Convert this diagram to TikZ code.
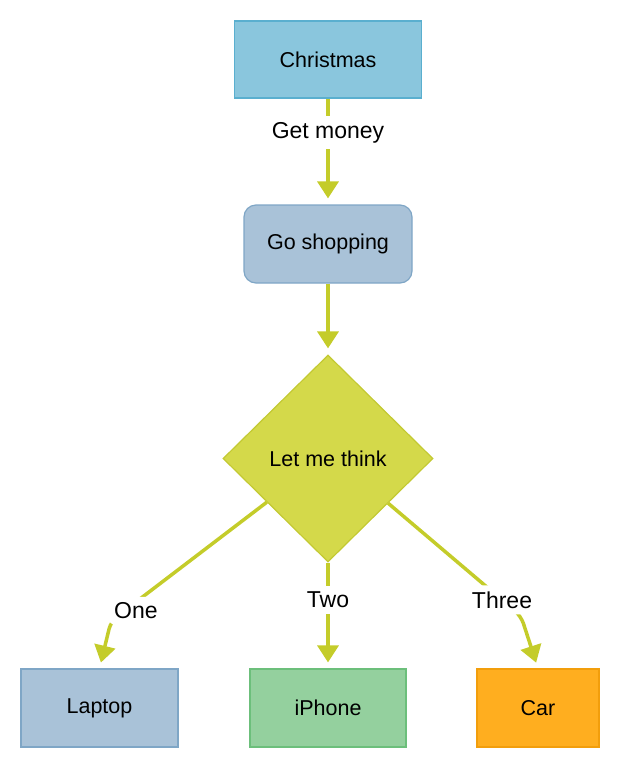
\documentclass[tikz,border=0pt]{standalone}
\usepackage{fontspec}
\setmainfont{Liberation Sans}
\usetikzlibrary{positioning,shapes.geometric,arrows.meta,calc}
\definecolor{xmasfill}{HTML}{8AC6DD}
\definecolor{xmasline}{HTML}{5AAFCF}
\definecolor{greyfill}{HTML}{A9C2D8}
\definecolor{greyline}{HTML}{7FA6C6}
\definecolor{thinkfill}{HTML}{D4D94A}
\definecolor{thinkline}{HTML}{C3C932}
\definecolor{phonefill}{HTML}{94D09E}
\definecolor{phoneline}{HTML}{6CBF7B}
\definecolor{carfill}{HTML}{FFAE1F}
\definecolor{carline}{HTML}{F29E0C}
\definecolor{linkcol}{HTML}{C4CC2A}
\tikzset{
  base/.style={draw, line width=1.2pt, text=black, font=\fontsize{21.5}{26}\selectfont},
  block/.style={base, rectangle, minimum height=77pt},
  roundblock/.style={base, rectangle, rounded corners=12pt, minimum height=78pt},
  decision/.style={base, diamond, inner sep=0pt, minimum width=210pt, minimum height=207pt},
  link/.style={->, draw=linkcol, line width=3.5pt, shorten >=6pt},
  lbl/.style={fill=white, font=\fontsize{23}{28}\selectfont, inner sep=6pt}
}
\begin{document}
\begin{tikzpicture}[>={Triangle[length=17pt,width=21pt]}, x=1pt, y=-1pt]
  \useasboundingbox (0,0) rectangle (618,769);
  % boxes
  \node[block, fill=xmasfill, draw=xmasline, minimum width=187pt] (xmas) at (328,59.5) {Christmas};
  \node[roundblock, fill=greyfill, draw=greyline, minimum width=168pt] (shop) at (328,244) {Go shopping};
  \node[decision, fill=thinkfill, draw=thinkline] (think) at (328,458.5) {Let me think};
  \node[block, fill=greyfill, draw=greyline, minimum width=157pt, minimum height=78pt] (laptop) at (99.5,708) {Laptop};
  \node[block, fill=phonefill, draw=phoneline, minimum width=156pt, minimum height=78pt] (phone) at (328,708) {iPhone};
  \node[block, fill=carfill, draw=carline, minimum width=122pt, minimum height=78pt] (car) at (538,708) {Car};
  \coordinate (bendone) at (111,621);
  \coordinate (bendthree) at (521,616);
  % links
  \draw[link] (xmas) -- node[lbl, pos=0.32] {Get money} (shop);
  \draw[link] (shop) -- (think);
  \draw[link] (think) -- node[lbl, pos=0.35] {Two} (phone);
  \draw[link, rounded corners=8pt] ($(think.west)!0.42!(think.south)$) -- node[lbl, pos=0.84, yshift=-9pt] {One} (bendone) -- (laptop.north);
  \draw[link, rounded corners=8pt] ($(think.east)!0.43!(think.south)$) -- node[lbl, pos=0.857] {Three} (bendthree) -- (car.north);
\end{tikzpicture}
\end{document}
